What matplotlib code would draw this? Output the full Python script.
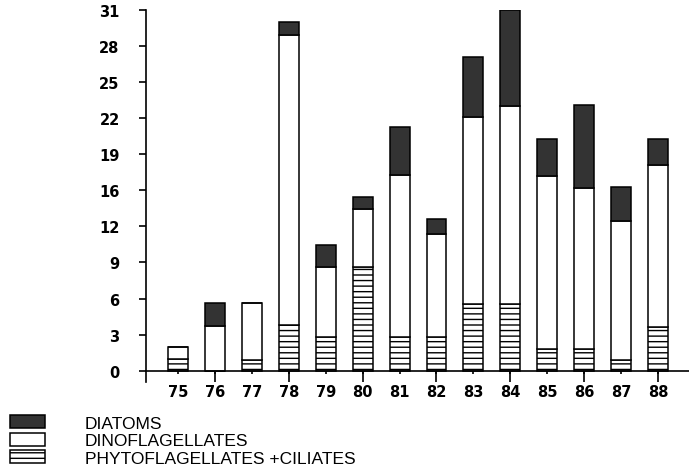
import numpy as np
import matplotlib
matplotlib.use("Agg")
import matplotlib.pyplot as plt

# Annual plankton composition, stacked by group
years = ["75", "76", "77", "78", "79", "80", "81", "82", "83", "84", "85", "86", "87", "88"]
phyto_ciliates = [1.0, 0.0, 0.95, 3.9, 2.9, 8.9, 2.9, 2.9, 5.75, 5.75, 1.9, 1.9, 0.9, 3.75]
dinoflagellates = [1.0, 3.8, 4.85, 24.95, 6.0, 5.0, 13.9, 8.8, 16.05, 17.0, 14.8, 13.8, 11.95, 13.95]
diatoms = [0.0, 2.0, 0.0, 1.05, 1.9, 1.0, 4.1, 1.3, 5.1, 8.2, 3.2, 7.1, 2.9, 2.2]

ytick_labels = ["0", "3", "6", "9", "12", "16", "19", "22", "25", "28", "31"]
ymax = 31

plt.rcParams["hatch.linewidth"] = 1.0

fig = plt.figure(figsize=(6.89, 4.77), dpi=100)
ax = fig.add_axes([0.212, 0.197, 0.788, 0.7806])

x = np.arange(len(years))
w = 0.54
lw = 1.1
b1 = ax.bar(x, phyto_ciliates, w, color="white", edgecolor="black",
            hatch="---", linewidth=lw, label="PHYTOFLAGELLATES +CILIATES")
b2 = ax.bar(x, dinoflagellates, w, bottom=phyto_ciliates, color="white",
            edgecolor="black", linewidth=lw, label="DINOFLAGELLATES")
bottom3 = np.array(phyto_ciliates) + np.array(dinoflagellates)
b3 = ax.bar(x, diatoms, w, bottom=bottom3, color="#333333",
            edgecolor="black", linewidth=lw, label="DIATOMS")

ax.set_xlim(-0.867, 13.84)
ax.set_ylim(-0.97, ymax)

for s in ("top", "right"):
    ax.spines[s].set_visible(False)
ax.spines["bottom"].set_position(("data", 0))
ax.spines["bottom"].set_linewidth(1.2)
ax.spines["left"].set_linewidth(1.2)

tick_font = dict(family="DejaVu Sans", weight="bold", size=10.5)

ax.set_yticks(np.linspace(0, ymax, len(ytick_labels)))
ax.set_yticklabels(ytick_labels, **tick_font)
ax.tick_params(axis="y", direction="out", length=5, width=1.2, pad=14)

# short ticks on every year, longer ticks on even years
ax.xaxis.remove_overlapping_locs = False
ax.set_xticks(x)
ax.set_xticklabels(years, **tick_font)
ax.tick_params(axis="x", which="major", direction="out", length=2.5, width=1.2, pad=7)
ax.set_xticks(x[1::2], minor=True)
ax.tick_params(axis="x", which="minor", direction="out", length=8, width=1.2)

fig.legend(handles=[b3, b2, b1],
           labels=["DIATOMS", "DINOFLAGELLATES", "PHYTOFLAGELLATES +CILIATES"],
           loc="upper left", bbox_to_anchor=(10 / 689, 0.127),
           frameon=False, borderpad=0, borderaxespad=0,
           handlelength=2.0, handleheight=0.75, handletextpad=2.3,
           labelspacing=0.12,
           prop=dict(family="Liberation Sans", size=12.5))

fig.savefig("out.png", dpi=100)
